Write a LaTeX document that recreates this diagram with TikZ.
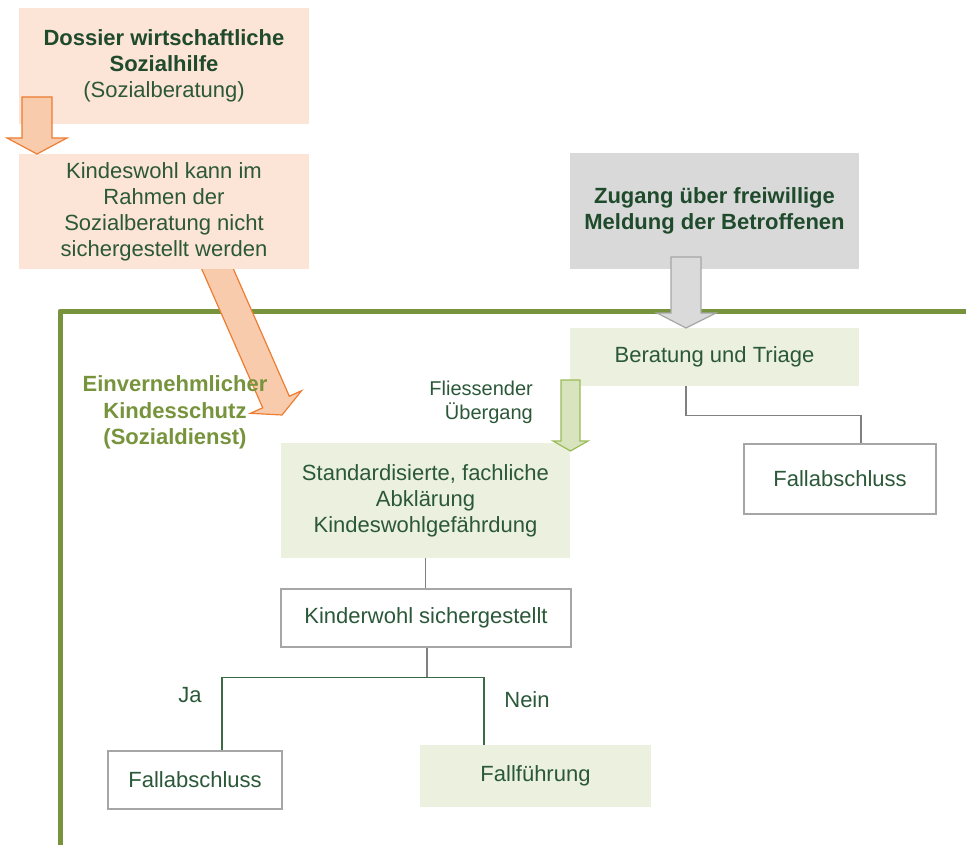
\documentclass[tikz,border=0pt]{standalone}
\usepackage{fontspec}
\setmainfont{Liberation Sans}
\definecolor{peach}{HTML}{FCE4D6}
\definecolor{boxgrey}{HTML}{D9D9D9}
\definecolor{lgreen}{HTML}{EBF1DE}
\definecolor{txtgreen}{HTML}{2B5838}
\definecolor{boldgreen}{HTML}{1F4A2C}
\definecolor{olive}{HTML}{77933C}
\definecolor{orfill}{HTML}{F8CBAD}
\definecolor{orline}{HTML}{ED7D31}
\definecolor{grfill}{HTML}{D7E4BD}
\definecolor{grline}{HTML}{9BBB59}
\definecolor{garrow}{HTML}{DADADA}
\definecolor{gline}{HTML}{A6A6A6}
\definecolor{connc}{HTML}{808080}
\definecolor{branchc}{HTML}{3B6A47}
\begin{document}
\begin{tikzpicture}[x=1pt,y=-1pt,
  box/.style={inner sep=0pt, align=center, text=txtgreen,
    font=\fontsize{22}{26}\selectfont},
  peachbox/.style={box, fill=peach},
  greybox/.style={box, fill=boxgrey},
  greenbox/.style={box, fill=lgreen},
  whitebox/.style={box, fill=white, draw=gline, line width=1.3pt},
  lbl/.style={inner sep=0pt, text=txtgreen, font=\fontsize{22}{26}\selectfont},
  smalllbl/.style={inner sep=0pt, text=txtgreen, align=right, font=\fontsize{20}{24}\selectfont},
  ekdlbl/.style={inner sep=0pt, text=olive, align=center, font=\fontsize{22}{26.5}\selectfont\bfseries},
  frame/.style={draw=olive, line width=5pt, line join=round},
  orarrow/.style={fill=orfill, draw=orline, line width=1.2pt, line join=miter},
  grarrow/.style={fill=grfill, draw=grline, line width=1.2pt},
  gyarrow/.style={fill=garrow, draw=gline, line width=1.2pt},
  conn/.style={draw=connc, line width=1.3pt},
  branch/.style={draw=branchc, line width=1.5pt}
]
\useasboundingbox (0,0) rectangle (966,845);

% frame of the Sozialdienst area
\draw[frame] (966,311) -- (60,311) -- (60,845);

% big diagonal orange arrow
\draw[orarrow] (227.8,256.2) -- (289.3,396.2) -- (301.6,390.7) -- (282,415)
  -- (250.4,413.3) -- (262.7,407.8) -- (201.2,267.8) -- cycle;

% left column
\node[peachbox, minimum width=290pt, minimum height=116pt] (dossier) at (164,66)
  {\textbf{\color{boldgreen}Dossier wirtschaftliche}\\\textbf{\color{boldgreen}Sozialhilfe}\\(Sozialberatung)};
\node[peachbox, minimum width=290pt, minimum height=115pt] (kindeswohl) at (164,211.5)
  {Kindeswohl kann im\\Rahmen der\\Sozialberatung nicht\\sichergestellt werden};
\draw[orarrow] (22,97) -- (52,97) -- (52,138) -- (67,138) -- (37,154) -- (7,138) -- (22,138) -- cycle;

% right column
\node[greybox, minimum width=289pt, minimum height=116pt, font=\fontsize{22}{26}\selectfont\bfseries, text=boldgreen] (zugang) at (714.5,211)
  {Zugang über freiwillige\\Meldung der Betroffenen};
\node[greenbox, minimum width=289pt, minimum height=58pt] (triage) at (714.5,357) {Beratung und Triage};
\draw[gyarrow] (671,257) -- (701,257) -- (701,313) -- (716,313) -- (686,328) -- (657,313) -- (671,313) -- cycle;

\node[whitebox, minimum width=192pt, minimum height=70pt] (fa1) at (840,479) {Fallabschluss};
\draw[conn] ([xshift=-28.5pt]triage.south) -- ++(0,29) -| ([xshift=21pt]fa1.north);

% labels
\node[ekdlbl] (ekd) at (175,412.5) {Einvernehmlicher\\Kindesschutz\\(Sozialdienst)};
\node[smalllbl, anchor=east] (flies) at (533,402) {Fliessender\\Übergang};

% central column
\node[greenbox, minimum width=289pt, minimum height=115pt] (std) at (425.5,500.5)
  {Standardisierte, fachliche\\Abklärung\\Kindeswohlgefährdung};
\draw[grarrow] (561,380) -- (580,380) -- (580,441) -- (588,441) -- (570.5,451) -- (553,441) -- (561,441) -- cycle;

\node[whitebox, minimum width=290pt, minimum height=58pt] (kw) at (426,618) {Kinderwohl sichergestellt};
\draw[conn] (std.south) -- (std.south |- kw.north);

\node[whitebox, minimum width=174pt, minimum height=58pt] (fa2) at (195,780) {Fallabschluss};
\node[greenbox, minimum width=231pt, minimum height=62pt] (ff) at (535.5,776) {Fallführung};

\draw[conn] ([xshift=1pt]kw.south) -- ++(0,30) coordinate (br);
\draw[branch] (br) -| ([xshift=27pt]fa2.north);
\draw[branch] (br) -| ([xshift=-51.5pt]ff.north);

\node[lbl] (ja) at (190,695) {Ja};
\node[lbl] (nein) at (527,700) {Nein};
\end{tikzpicture}
\end{document}
